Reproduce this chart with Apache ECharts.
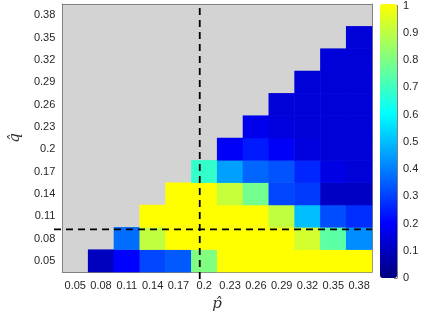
<!DOCTYPE html>
<html>
<head>
<meta charset="utf-8">
<script src="https://cdn.jsdelivr.net/npm/echarts@6/dist/echarts.min.js"></script>
<style>
  html, body { margin: 0; padding: 0; background: #fff; }
  #main { width: 423px; height: 317px; }
</style>
</head>
<body>
<div id="main"></div>
<script>
// tick labels (p hat on x, q hat on y)
const pLabels = ['0.05', '0.08', '0.11', '0.14', '0.17', '0.2', '0.23', '0.26', '0.29', '0.32', '0.35', '0.38'];
const qLabels = ['0.05', '0.08', '0.11', '0.14', '0.17', '0.2', '0.23', '0.26', '0.29', '0.32', '0.35', '0.38'];
// one row per q value, one entry per p value (null = empty / grey)
const n = null;
const q005 = [n, 0.10, 0.20, 0.31, 0.34, 0.80, 1, 1, 1, 1, 1, 1];
const q008 = [n, n, 0.37, 0.90, 1, 1, 1, 1, 1, 0.93, 0.74, 0.42];
const q011 = [n, n, n, 1, 1, 1, 1, 1, 0.90, 0.50, 0.32, 0.27];
const q014 = [n, n, n, n, 1, 1, 0.91, 0.78, 0.31, 0.29, 0.11, 0.11];
const q017 = [n, n, n, n, n, 0.68, 0.45, 0.36, 0.33, 0.26, 0.16, 0.14];
const q020 = [n, n, n, n, n, n, 0.19, 0.24, 0.19, 0.15, 0.14, 0.14];
const q023 = [n, n, n, n, n, n, n, 0.17, 0.15, 0.14, 0.14, 0.14];
const q026 = [n, n, n, n, n, n, n, n, 0.14, 0.14, 0.14, 0.14];
const q029 = [n, n, n, n, n, n, n, n, n, 0.14, 0.14, 0.14];
const q032 = [n, n, n, n, n, n, n, n, n, n, 0.14, 0.14];
const q035 = [n, n, n, n, n, n, n, n, n, n, n, 0.14];
const q038 = [n, n, n, n, n, n, n, n, n, n, n, n];
const rows = [q005, q008, q011, q014, q017, q020, q023, q026, q029, q032, q035, q038];
// dashed reference lines
const pLine = 0.2;
const qLine = 0.1;
const colorbarTicks = [0, 0.1, 0.2, 0.3, 0.4, 0.5, 0.6, 0.7, 0.8, 0.9, 1];

const cells = [];
rows.forEach((row, yi) => {
  row.forEach((v, xi) => {
    if (v !== null) cells.push([xi, yi, v]);
  });
});

const chart = echarts.init(document.getElementById('main'));
const font = 'Liberation Sans';
const axisGrey = '#808080';
const lo = 0.035, hi = 0.395;

const option = {
  animation: false,
  textStyle: { fontFamily: font },
  grid: [
    { left: 54, top: 4, width: 318, height: 275, show: true, backgroundColor: '#d3d3d3', borderWidth: 0 },
    { left: 54, top: 4, width: 318, height: 275 },
    { left: 380, top: 4, width: 17, height: 274 }
  ],
  xAxis: [
    {
      type: 'category', data: pLabels, gridIndex: 0, position: 'bottom',
      name: 'p\u0302', nameLocation: 'middle', nameGap: 25,
      nameTextStyle: { fontFamily: 'DejaVu Serif', fontStyle: 'italic', fontSize: 15, color: '#333' },
      axisLine: { lineStyle: { color: axisGrey } },
      axisTick: { inside: true, alignWithLabel: true, length: 4, lineStyle: { color: axisGrey } },
      axisLabel: { fontSize: 11, color: '#262626', margin: 8, interval: 0 },
      splitLine: { show: false }
    },
    {
      type: 'category', data: pLabels, gridIndex: 0, position: 'top',
      axisLine: { lineStyle: { color: axisGrey } },
      axisTick: { inside: true, alignWithLabel: true, length: 4, interval: 0, lineStyle: { color: axisGrey } },
      axisLabel: { show: false }
    },
    { type: 'value', gridIndex: 1, min: lo, max: hi, show: false },
    { type: 'category', gridIndex: 2, data: [''], show: false }
  ],
  yAxis: [
    {
      type: 'category', data: qLabels, gridIndex: 0, position: 'left',
      name: 'q\u0302', nameLocation: 'middle', nameGap: 26,
      nameTextStyle: { fontFamily: 'DejaVu Serif', fontStyle: 'italic', fontSize: 15, color: '#333' },
      axisLine: { lineStyle: { color: axisGrey } },
      axisTick: { inside: true, alignWithLabel: true, length: 4, lineStyle: { color: axisGrey } },
      axisLabel: { fontSize: 11, color: '#262626', margin: 7, interval: 0 },
      splitLine: { show: false }
    },
    {
      type: 'category', data: qLabels, gridIndex: 0, position: 'right',
      axisLine: { lineStyle: { color: axisGrey } },
      axisTick: { inside: true, alignWithLabel: true, length: 4, interval: 0, lineStyle: { color: axisGrey } },
      axisLabel: { show: false }
    },
    { type: 'value', gridIndex: 1, min: lo, max: hi, show: false },
    {
      type: 'value', gridIndex: 2, min: 0, max: 1, interval: 0.1, position: 'right',
      axisLine: { show: true, lineStyle: { color: axisGrey } },
      axisTick: { show: true, inside: true, length: 3, lineStyle: { color: axisGrey } },
      axisLabel: {
        fontSize: 11, color: '#262626', margin: 6,
        formatter: v => colorbarTicks.some(t => Math.abs(t - v) < 1e-9) ? String(+v.toFixed(1)) : ''
      },
      splitLine: { show: false }
    }
  ],
  visualMap: {
    type: 'continuous',
    seriesIndex: 0,
    min: 0, max: 1,
    calculable: false,
    orient: 'vertical',
    left: 380, top: 4,
    itemWidth: 17, itemHeight: 274,
    padding: 0,
    text: null,
    inRange: {
      color: ['#000080', '#0000bf', '#0000ff', '#0040ff', '#0080ff', '#00bfff',
              '#00ffff', '#40ffbf', '#80ff80', '#bfff40', '#ffff00']
    }
  },
  series: [
    {
      type: 'heatmap', xAxisIndex: 0, yAxisIndex: 0,
      data: cells,
      itemStyle: { borderWidth: 0 }
    },
    {
      type: 'line', xAxisIndex: 2, yAxisIndex: 2,
      data: [[pLine, lo], [pLine, hi]],
      symbol: 'none', silent: true, z: 5,
      lineStyle: { color: '#000', width: 1.8, type: [7, 5] }
    },
    {
      type: 'line', xAxisIndex: 2, yAxisIndex: 2,
      data: [[lo, qLine], [hi, qLine]],
      symbol: 'none', silent: true, z: 5,
      lineStyle: { color: '#000', width: 1.8, type: [7, 5] }
    }
  ]
};
chart.setOption(option);
</script>
</body>
</html>
